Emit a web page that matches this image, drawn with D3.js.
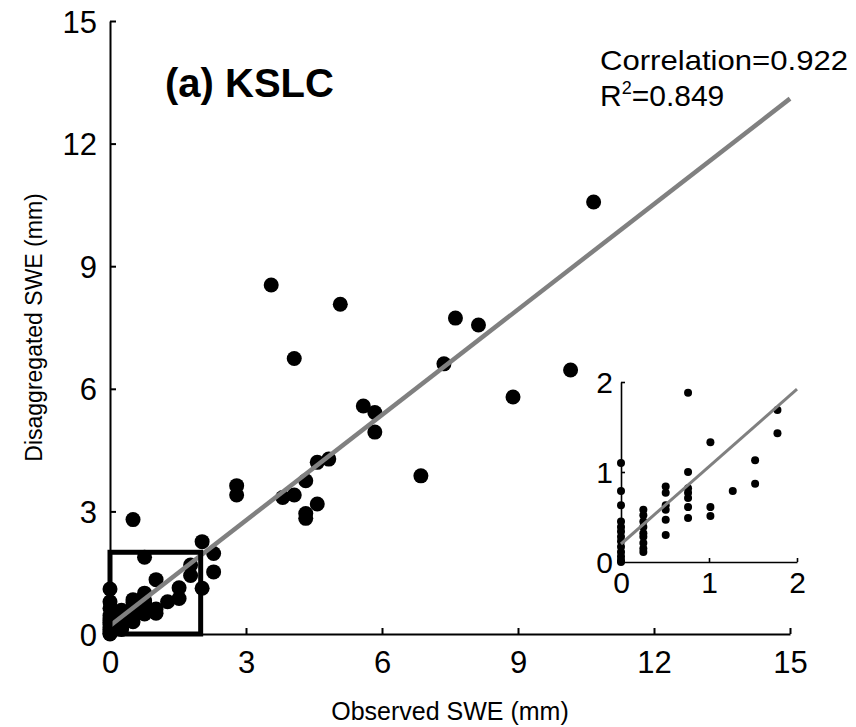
<!DOCTYPE html>
<html>
<head>
<meta charset="utf-8">
<script src="https://cdn.jsdelivr.net/npm/d3@7"></script>
<style>
  html, body { margin: 0; padding: 0; background: #fff; }
  svg { display: block; font-family: "Liberation Sans", Arial, Helvetica, sans-serif; }
</style>
</head>
<body>
<svg id="chart" width="856" height="727"></svg>
<script>
// ---- data (mm) ----
const observed = [
  0, 0, 0, 0, 0, 0, 0, 0, 0, 0, 0, 0, 0,
  0.254, 0.254, 0.254, 0.254, 0.254, 0.254, 0.254, 0.254, 0.254,
  0.508, 0.508, 0.508, 0.508, 0.508, 0.508, 0.508,
  0.762, 0.762, 0.762, 0.762, 0.762, 0.762, 0.762,
  1.016, 1.016, 1.016,
  1.27,
  1.524, 1.524,
  1.778, 1.778,
  2.032, 2.032,
  2.286, 2.286,
  2.794, 2.794,
  3.556, 3.81,
  4.064, 4.064,
  4.318, 4.318, 4.318,
  4.572, 4.572,
  4.826,
  5.08,
  5.588, 5.842, 5.842,
  6.858,
  7.366, 7.62, 8.128,
  8.89,
  10.16,
  10.668
];
const disaggregated = [
  1.10, 0.79, 0.63, 0.45, 0.39, 0.34, 0.28, 0.23, 0.17, 0.11, 0.06, 0.02, 0.0,
  0.58, 0.52, 0.45, 0.39, 0.32, 0.28, 0.21, 0.15, 0.11,
  2.80, 0.84, 0.77, 0.63, 0.58, 0.47, 0.30,
  1.88, 1.00, 0.82, 0.77, 0.71, 0.61, 0.49,
  1.33, 0.61, 0.51,
  0.79,
  1.13, 0.87,
  1.69, 1.43,
  2.26, 1.12,
  1.97, 1.52,
  3.63, 3.40,
  8.54, 3.34,
  6.74, 3.40,
  3.75, 2.95, 2.83,
  4.20, 3.18,
  4.28,
  8.07,
  5.58, 5.42, 4.94,
  3.87,
  6.61, 7.73, 7.56,
  5.80,
  6.46,
  10.57
];
const mainTicks = [0, 3, 6, 9, 12, 15];
const insetTicks = [0, 1, 2];
const fit = { intercept: 0.2, slope: 0.86 };
const titleLabel = "(a) KSLC";
const statLines = ["Correlation=0.922", "0.849"];
const xLabel = "Observed SWE (mm)";
const yLabel = "Disaggregated SWE (mm)";

const pts = observed.map((o, i) => ({ o, d: disaggregated[i] }));

const svg = d3.select("#chart");

// ---- main axes ----
const x = d3.scaleLinear().domain([0, 15]).range([110, 790]);
const y = d3.scaleLinear().domain([0, 15]).range([634, 21]);

const xAxis = d3.axisBottom(x).tickValues(mainTicks).tickFormat(d3.format("d"))
  .tickSizeInner(-6).tickSizeOuter(0).tickPadding(17);
const yAxis = d3.axisLeft(y).tickValues(mainTicks).tickFormat(d3.format("d"))
  .tickSizeInner(-6).tickSizeOuter(0).tickPadding(13);

const gx = svg.append("g").attr("transform", `translate(0,${y(0)})`).call(xAxis);
const gy = svg.append("g").attr("transform", `translate(${x(0)},0)`).call(yAxis);
[gx, gy].forEach(g => {
  g.select(".domain").attr("stroke", "#000").attr("stroke-width", 2);
  g.selectAll(".tick line").attr("stroke", "#000").attr("stroke-width", 2);
  g.selectAll(".tick text").attr("fill", "#000").attr("font-size", 31)
    .attr("font-family", "Liberation Sans, Arial, sans-serif");
});
gy.selectAll(".tick text").attr("dy", "0.36em");

// points
svg.append("g").selectAll("circle").data(pts).join("circle")
  .attr("cx", d => x(d.o)).attr("cy", d => y(d.d)).attr("r", 7.5).attr("fill", "#000");

// regression line
svg.append("line")
  .attr("x1", x(0)).attr("y1", y(fit.intercept))
  .attr("x2", x(15)).attr("y2", y(fit.intercept + fit.slope * 15))
  .attr("stroke", "#808080").attr("stroke-width", 4.5);

// zoom box
svg.append("rect")
  .attr("x", x(0)).attr("y", y(2))
  .attr("width", x(2) - x(0)).attr("height", y(0) - y(2))
  .attr("fill", "none").attr("stroke", "#000").attr("stroke-width", 5);

// texts
svg.append("text").attr("x", 165).attr("y", 97).attr("font-size", 40).attr("font-weight", "bold")
  .text(titleLabel);
svg.append("text").attr("x", 600).attr("y", 70).attr("font-size", 28)
  .attr("textLength", 248).attr("lengthAdjust", "spacingAndGlyphs").text(statLines[0]);
const r2 = svg.append("text").attr("x", 600).attr("y", 106).attr("font-size", 30);
r2.append("tspan").text("R");
r2.append("tspan").attr("font-size", 18).attr("dy", -12).text("2");
r2.append("tspan").attr("dy", 12).text("=" + statLines[1]);

svg.append("text").attr("x", (x(0) + x(15)) / 2).attr("y", 720).attr("text-anchor", "middle")
  .attr("font-size", 25).text(xLabel);
svg.append("text").attr("transform", `translate(42,${(y(0) + y(15)) / 2}) rotate(-90)`)
  .attr("text-anchor", "middle").attr("font-size", 23).text(yLabel);

// ---- inset ----
const xi = d3.scaleLinear().domain([0, 2]).range([621, 797]);
const yi = d3.scaleLinear().domain([0, 2]).range([562, 382]);
const ins = svg.append("g");
const xiAxis = d3.axisBottom(xi).tickValues(insetTicks).tickFormat(d3.format("d"))
  .tickSizeInner(-4).tickSizeOuter(0).tickPadding(10);
const yiAxis = d3.axisLeft(yi).tickValues(insetTicks).tickFormat(d3.format("d"))
  .tickSizeInner(-4).tickSizeOuter(0).tickPadding(8);
const gxi = ins.append("g").attr("transform", `translate(0,${yi(0)})`).call(xiAxis);
const gyi = ins.append("g").attr("transform", `translate(${xi(0)},0)`).call(yiAxis);
[gxi, gyi].forEach(g => {
  g.select(".domain").attr("stroke", "#000").attr("stroke-width", 1.6);
  g.selectAll(".tick line").attr("stroke", "#000").attr("stroke-width", 1.6);
  g.selectAll(".tick text").attr("fill", "#000").attr("font-size", 30)
    .attr("font-family", "Liberation Sans, Arial, sans-serif");
});
gyi.selectAll(".tick text").attr("dy", "0.36em");

ins.append("g").selectAll("circle").data(pts.filter(p => p.o <= 2 && p.d <= 2)).join("circle")
  .attr("cx", d => xi(d.o)).attr("cy", d => yi(d.d)).attr("r", 4).attr("fill", "#000");

ins.append("line")
  .attr("x1", xi(0)).attr("y1", yi(fit.intercept))
  .attr("x2", xi(2)).attr("y2", yi(fit.intercept + fit.slope * 2))
  .attr("stroke", "#808080").attr("stroke-width", 3);
</script>
</body>
</html>
